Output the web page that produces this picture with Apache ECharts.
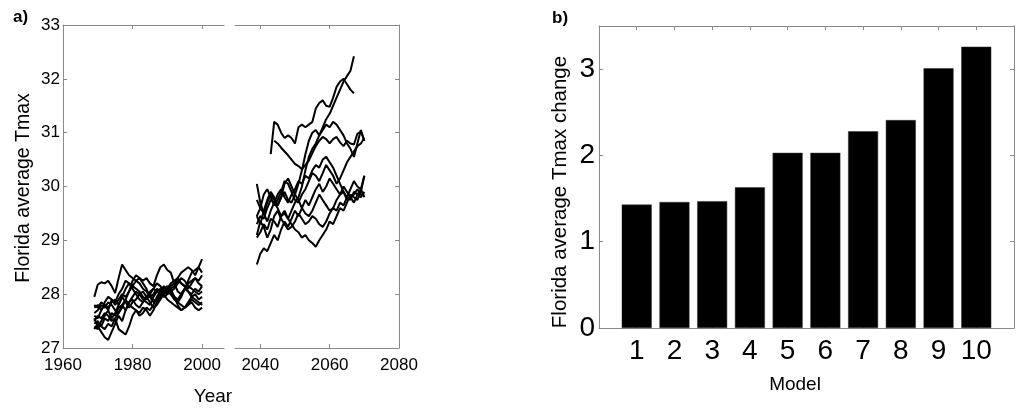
<!DOCTYPE html>
<html>
<head>
<meta charset="utf-8">
<script src="https://cdn.jsdelivr.net/npm/echarts@6/dist/echarts.min.js"></script>
<style>html,body{margin:0;padding:0;background:#fff;}#c{width:1024px;height:414px;}</style>
</head>
<body>
<div id="c"></div>
<script>
// ---------- DATA ----------
const histYears = [1969,1970,1971,1972,1973,1974,1975,1976,1977,1978,1979,1980,1981,1982,1983,1984,1985,1986,1987,1988,1989,1990,1991,1992,1993,1994,1995,1996,1997,1998,1999,2000];
const h1 = [27.95,28.18,28.22,28.20,28.25,28.15,28.02,28.30,28.55,28.45,28.35,28.30,28.25,28.20,28.10,28.05,27.95,28.00,28.10,28.05,28.15,28.05,28.00,27.90,27.85,27.95,28.10,28.20,28.25,28.30,28.20,28.15];
const h2 = [27.60,27.55,27.70,27.80,27.75,27.85,27.90,27.80,27.95,28.10,28.20,28.15,28.25,28.30,28.25,28.30,28.20,28.15,28.35,28.50,28.55,28.45,28.40,28.20,28.05,28.00,28.10,28.25,28.40,28.45,28.50,28.40];
const h3 = [27.35,27.45,27.40,27.55,27.50,27.65,27.60,27.75,27.80,27.70,27.85,27.95,28.05,28.00,27.90,27.85,27.80,27.95,28.05,28.10,28.00,28.05,28.15,28.20,28.30,28.40,28.45,28.50,28.45,28.35,28.50,28.65];
const h4 = [27.55,27.40,27.30,27.20,27.15,27.30,27.45,27.60,27.50,27.70,27.85,27.90,27.80,27.75,27.85,27.95,28.00,27.90,27.85,27.95,28.05,28.10,28.00,27.95,27.85,27.80,27.75,27.80,27.90,27.85,27.80,27.85];
const h5 = [27.45,27.50,27.40,27.35,27.45,27.40,27.55,27.35,27.30,27.25,27.40,27.60,27.70,27.65,27.75,27.70,27.60,27.70,27.85,27.95,28.05,28.00,28.10,27.95,27.80,27.70,27.75,27.85,27.95,28.00,27.90,27.95];
const h6 = [27.80,27.75,27.85,27.80,27.70,27.90,27.85,28.00,28.10,28.25,28.20,28.10,28.00,27.90,27.85,27.95,28.05,28.10,28.20,28.15,28.05,28.10,28.20,28.25,28.30,28.20,28.15,28.05,28.00,28.10,28.05,28.15];
const h7 = [27.65,27.70,27.80,27.75,27.85,27.80,27.70,27.65,27.75,27.90,28.05,28.25,28.35,28.30,28.20,28.10,27.95,27.85,27.90,28.00,28.10,28.15,28.05,27.95,27.90,28.00,28.10,28.05,27.95,27.90,27.85,27.80];
const h8 = [27.50,27.60,27.55,27.65,27.60,27.50,27.55,27.65,27.80,27.90,27.80,27.75,27.70,27.60,27.65,27.75,27.70,27.80,27.95,28.05,28.00,27.90,27.85,27.80,27.75,27.70,27.75,27.80,27.85,27.75,27.70,27.75];
const h9 = [27.40,27.35,27.50,27.60,27.70,27.55,27.65,27.80,27.95,27.85,27.75,27.85,27.90,28.00,28.05,27.95,27.85,27.75,27.80,27.90,28.00,28.05,28.10,28.15,28.25,28.20,28.15,28.10,28.20,28.30,28.25,28.35];
const h10 = [27.75,27.80,27.70,27.85,27.95,27.90,27.80,27.90,28.00,27.95,28.05,28.15,28.10,28.05,27.95,27.90,28.00,28.10,28.05,28.00,27.95,28.00,28.05,28.10,28.20,28.30,28.25,28.15,28.10,28.05,28.00,28.05];

const futYears = [2039,2040,2041,2042,2043,2044,2045,2046,2047,2048,2049,2050,2051,2052,2053,2054,2055,2056,2057,2058,2059,2060,2061,2062,2063,2064,2065,2066,2067,2068,2069,2070];
const f1 = [null,null,null,null,30.60,31.20,31.15,31.00,30.90,30.95,30.90,30.80,31.10,31.15,31.10,31.15,31.20,31.45,31.55,31.60,31.50,31.48,31.65,31.85,31.95,32.00,31.90,31.80,31.73,null,null,null];
const f2 = [null,null,null,null,null,30.85,30.80,30.72,30.65,30.58,30.50,30.42,30.38,30.32,30.40,30.48,30.62,30.75,30.85,30.92,30.88,30.80,30.88,30.92,30.82,30.75,30.85,30.80,30.78,30.98,31.02,30.85];
const f3 = [29.45,29.60,29.50,29.70,29.85,29.75,29.65,29.80,29.90,29.75,29.70,29.85,30.05,30.30,30.60,30.85,31.00,31.05,30.95,31.10,31.25,31.35,31.50,31.65,31.80,31.95,32.05,32.15,32.42,null,null,null];
const f4 = [30.05,29.70,29.50,29.35,29.55,29.70,29.60,29.45,29.50,29.40,29.55,29.70,29.80,30.00,30.30,30.55,30.70,30.80,30.95,31.05,31.15,31.10,31.20,31.15,31.05,30.95,30.80,30.70,30.55,30.80,31.05,30.85];
const f5 = [29.30,29.45,29.40,29.60,29.75,29.70,29.85,29.95,29.80,29.70,29.85,29.95,30.10,30.05,30.20,30.15,30.30,30.40,30.35,30.50,30.55,30.45,30.35,30.20,30.05,29.90,29.80,29.95,30.10,30.00,29.95,30.20];
const f6 = [28.55,28.75,28.85,28.80,28.95,29.10,29.00,29.20,29.35,29.25,29.40,29.55,29.45,29.60,29.75,29.65,29.80,29.95,30.05,29.90,30.00,30.15,30.05,29.95,29.85,29.90,29.75,29.80,29.70,29.85,29.80,29.90];
const f7 = [29.05,29.15,29.30,29.20,29.40,29.35,29.25,29.45,29.55,29.40,29.30,29.20,29.15,29.05,29.10,29.00,28.95,28.88,29.00,29.10,29.20,29.35,29.30,29.45,29.60,29.55,29.70,29.85,29.80,29.75,29.90,30.20];
const f8 = [29.45,29.30,29.55,29.75,29.90,29.80,29.65,29.80,30.05,30.15,30.00,29.85,29.75,29.60,29.50,29.45,29.55,29.70,29.85,29.75,29.65,29.55,29.60,29.75,29.85,30.00,29.90,29.80,29.85,29.95,29.85,29.85];
const f9 = [29.10,29.35,29.25,29.05,29.20,29.45,29.55,29.40,29.30,29.20,29.25,29.35,29.50,29.40,29.30,29.35,29.45,29.40,29.30,29.25,29.35,29.50,29.60,29.55,29.70,29.65,29.80,29.75,29.90,29.85,29.95,29.80];
const f10 = [29.75,29.60,29.85,29.95,29.80,29.65,29.75,29.90,30.10,30.05,29.90,29.75,29.70,29.85,29.95,30.10,30.25,30.20,30.10,30.25,30.40,30.30,30.20,30.05,30.15,30.30,30.45,30.55,30.65,30.75,30.80,30.90];

const models = [1,2,3,4,5,6,7,8,9,10];
const tmaxChange = [1.43,1.46,1.47,1.63,2.03,2.03,2.28,2.41,3.01,3.26];

const tickA_left = [1960,1980,2000];
const tickA_right = [2040,2060,2080];
const tickA_y = [27,28,29,30,31,32,33];
const tickB_y = [0,1,2,3];

// ---------- CHART ----------
const FONT = "'Liberation Sans', Arial, Helvetica, sans-serif";
const AX = '#8a8a8a';
const chart = echarts.init(document.getElementById('c'), null, {renderer:'canvas'});

function pairs(xs, ys){ return xs.map((x,i)=>[x, ys[i]]); }
const plain = v => String(v);
const histAll = [h1,h2,h3,h4,h5,h6,h7,h8,h9,h10];
const futAll = [f1,f2,f3,f4,f5,f6,f7,f8,f9,f10];

const lineBase = {type:'line', showSymbol:false, symbol:'none', animation:false, connectNulls:false,
  lineStyle:{color:'#000', width:2}, itemStyle:{color:'#000'}, silent:true};

const series = [];
histAll.forEach(a=>series.push(Object.assign({}, lineBase, {xAxisIndex:0, yAxisIndex:0, data:pairs(histYears,a)})));
futAll.forEach(a=>series.push(Object.assign({}, lineBase, {xAxisIndex:2, yAxisIndex:1, data:pairs(futYears,a)})));
series.push({type:'bar', xAxisIndex:4, yAxisIndex:3, barWidth:30, animation:false,
  itemStyle:{color:'#000', borderColor:'#333', borderWidth:0.5}, data:pairs(models,tmaxChange)});

const axLine = {show:true, onZero:false, lineStyle:{color:AX, width:1}};
const tickIn = (vals, len)=>({show:true, inside:true, length:len||4, lineStyle:{color:AX}, customValues:vals});

const option = {
  animation:false,
  backgroundColor:'#fff',
  grid:[
    {left:63, top:25, width:161, height:323},
    {left:235, top:25, width:164, height:323},
    {left:599, top:26, width:415, height:302}
  ],
  xAxis:[
    {gridIndex:0, type:'value', position:'bottom', min:1960, max:2006.3, axisLine:axLine, splitLine:{show:false},
     axisTick:tickIn(tickA_left), axisLabel:{customValues:tickA_left, formatter:plain, color:'#000', fontFamily:FONT, fontSize:17, margin:9}},
    {gridIndex:0, type:'value', position:'top', min:1960, max:2006.3, axisLine:axLine, splitLine:{show:false},
     axisTick:tickIn(tickA_left), axisLabel:{show:false}},
    {gridIndex:1, type:'value', position:'bottom', min:2032.7, max:2080, axisLine:axLine, splitLine:{show:false},
     axisTick:tickIn(tickA_right), axisLabel:{customValues:tickA_right, formatter:plain, color:'#000', fontFamily:FONT, fontSize:17, margin:9}},
    {gridIndex:1, type:'value', position:'top', min:2032.7, max:2080, axisLine:axLine, splitLine:{show:false},
     axisTick:tickIn(tickA_right), axisLabel:{show:false}},
    {gridIndex:2, type:'value', position:'bottom', min:0, max:11, axisLine:axLine, splitLine:{show:false},
     axisTick:tickIn(models), axisLabel:{customValues:models, formatter:plain, color:'#000', fontFamily:FONT, fontSize:28, margin:9}},
    {gridIndex:2, type:'value', position:'top', min:0, max:11, axisLine:axLine, splitLine:{show:false},
     axisTick:tickIn(models), axisLabel:{show:false}}
  ],
  yAxis:[
    {gridIndex:0, type:'value', position:'left', min:27, max:33, axisLine:axLine, splitLine:{show:false},
     axisTick:tickIn(tickA_y), axisLabel:{customValues:tickA_y, formatter:plain, color:'#000', fontFamily:FONT, fontSize:17, margin:3, padding:[6,0,0,0]}},
    {gridIndex:1, type:'value', position:'right', min:27, max:33, axisLine:axLine, splitLine:{show:false},
     axisTick:tickIn(tickA_y), axisLabel:{show:false}},
    {gridIndex:0, type:'value', position:'right', min:27, max:33, show:false},
    {gridIndex:2, type:'value', position:'left', min:0, max:3.5, axisLine:axLine, splitLine:{show:false},
     axisTick:tickIn(tickB_y), axisLabel:{customValues:tickB_y, formatter:plain, color:'#000', fontFamily:FONT, fontSize:28, margin:4, padding:[8,0,0,0]}},
    {gridIndex:2, type:'value', position:'right', min:0, max:3.5, axisLine:axLine, splitLine:{show:false},
     axisTick:tickIn(tickB_y), axisLabel:{show:false}}
  ],
  graphic:[
    {type:'text', x:13, y:17, silent:true, style:{text:'a)', font:'bold 17px '+FONT, fill:'#000', textAlign:'left', textVerticalAlign:'middle'}},
    {type:'text', x:552, y:18, silent:true, style:{text:'b)', font:'bold 17px '+FONT, fill:'#000', textAlign:'left', textVerticalAlign:'middle'}},
    {type:'text', x:24, y:188, rotation:Math.PI/2, silent:true, style:{text:'Florida average Tmax', font:'19.5px '+FONT, fill:'#000', textAlign:'center', textVerticalAlign:'middle'}},
    {type:'text', x:213, y:397, silent:true, style:{text:'Year', font:'19px '+FONT, fill:'#000', textAlign:'center', textVerticalAlign:'middle'}},
    {type:'text', x:560, y:192, rotation:Math.PI/2, silent:true, style:{text:'Florida average Tmax change', font:'20.5px '+FONT, fill:'#000', textAlign:'center', textVerticalAlign:'middle'}},
    {type:'text', x:795, y:385, silent:true, style:{text:'Model', font:'19px '+FONT, fill:'#000', textAlign:'center', textVerticalAlign:'middle'}}
  ],
  series: series
};
chart.setOption(option);
</script>
</body>
</html>
